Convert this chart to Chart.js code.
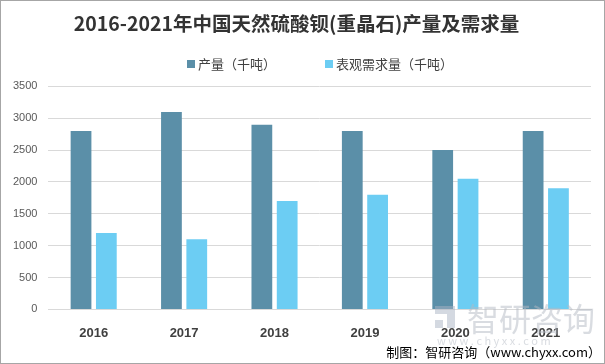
<!DOCTYPE html>
<html><head><meta charset="utf-8">
<script src="https://cdn.jsdelivr.net/npm/chart.js@4/dist/chart.umd.min.js"></script>
<style>
html,body{margin:0;padding:0;background:#fff;}
#wrap{position:relative;width:605px;height:364px;box-sizing:border-box;border:1px solid #a6a6a6;}
</style></head>
<body><div id="wrap"><canvas id="c" width="603" height="362"></canvas></div>
<script>
const categories = ["2016","2017","2018","2019","2020","2021"];
const production = [2800,3100,2900,2800,2500,2800];
const demand = [1200,1100,1700,1800,2050,1900];
const yTicks = [0,500,1000,1500,2000,2500,3000,3500];
const seriesNames = ["产量（千吨）","表观需求量（千吨）"];
const titleText = "2016-2021年中国天然硫酸钡(重晶石)产量及需求量";
const sourceText = "制图：智研咨询（www.chyxx.com）";

const CJK = '"Noto Sans CJK SC", "Microsoft YaHei", sans-serif';

const overlay = {
  id:'overlay',
  afterDraw(chart){
    const ctx = chart.ctx;
    ctx.save();
    const legendX = [186, 324];
    ctx.font = '13px ' + CJK;
    ctx.textBaseline = 'middle';
    ctx.textAlign = 'left';
    chart.data.datasets.forEach((ds, i) => {
      ctx.fillStyle = ds.backgroundColor;
      ctx.fillRect(legendX[i], 59, 8, 8);
      ctx.fillStyle = '#404040';
      ctx.fillText(ds.label, legendX[i] + 11, 63);
    });
    ctx.fillStyle = 'rgba(180,186,196,0.5)';
    ctx.font = '32px ' + CJK;
    ctx.fillText('智研咨询', 466, 318);
    ctx.font = '11px ' + CJK;
    ctx.fillText('w w w . c h y x x . c o m', 436, 340);
    ctx.fillStyle = 'rgba(170,180,196,0.5)';
    ctx.fillRect(434, 305, 20, 8);
    ctx.fillRect(446, 313, 8, 14);
    ctx.fillRect(434, 319, 8, 8);
    ctx.fillStyle = '#000';
    ctx.font = '13px ' + CJK;
    ctx.textAlign = 'right';
    ctx.fillText(sourceText, 600, 351);
    ctx.restore();
  }
};

new Chart(document.getElementById('c'), {
  type:'bar',
  data:{
    labels:categories,
    datasets:[
      {label:seriesNames[0], data:production, backgroundColor:'#5b8fa8', categoryPercentage:0.56, barPercentage:0.82},
      {label:seriesNames[1], data:demand, backgroundColor:'#6ccdf3', categoryPercentage:0.56, barPercentage:0.82}
    ]
  },
  options:{
    responsive:false,
    animation:false,
    layout:{padding:{left:1,right:13,top:7,bottom:14}},
    plugins:{
      title:{display:true,text:titleText,color:'#333',font:{family:CJK,size:19.5,weight:'bold'},padding:{top:4,bottom:51}},
      legend:{display:false},
      tooltip:{enabled:false}
    },
    scales:{
      x:{grid:{display:false},border:{color:'#d9d9d9'},
         ticks:{color:'#404040',font:{family:'"Liberation Sans", Arial, sans-serif',size:13,weight:'bold'},padding:8}},
      y:{min:0,max:3500,afterBuildTicks:(ax)=>{ax.ticks=yTicks.map(v=>({value:v}));},
         grid:{color:'#d9d9d9',drawTicks:false},border:{display:false},
         ticks:{color:'#595959',font:{family:'"Liberation Sans", Arial, sans-serif',size:11},padding:11,callback:(v)=>String(v)}}
    }
  },
  plugins:[overlay]
});
</script></body></html>
